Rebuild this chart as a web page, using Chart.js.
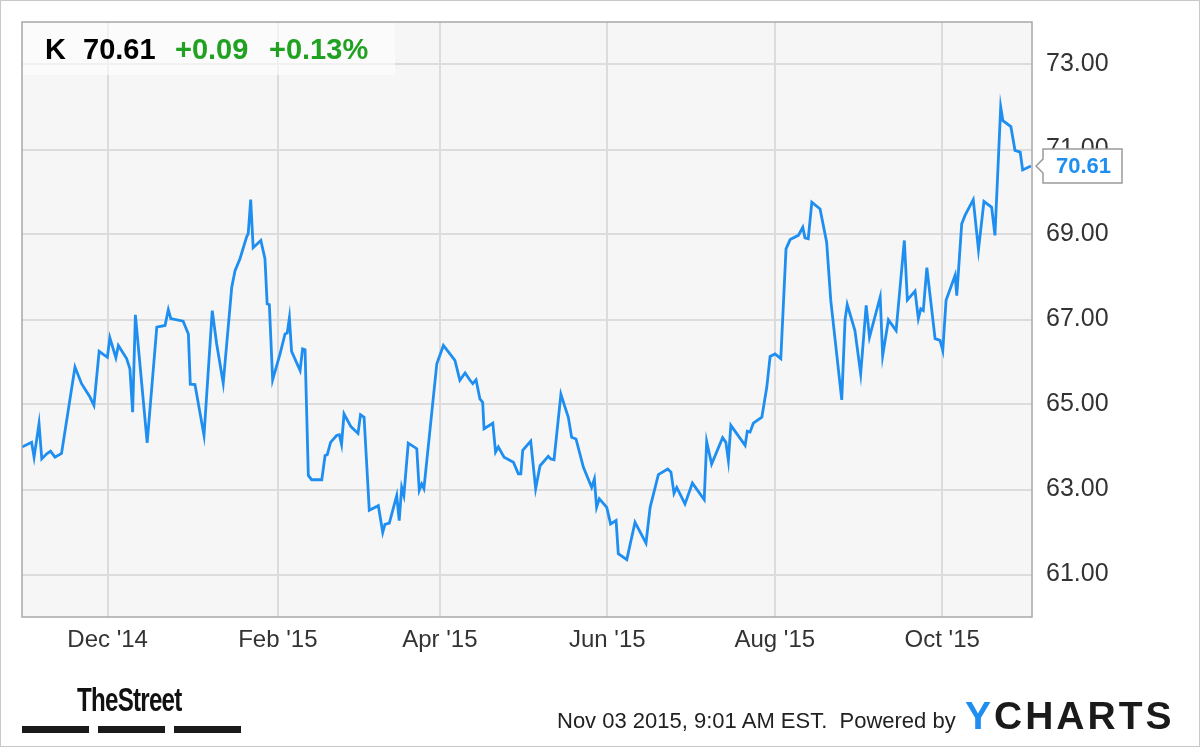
<!DOCTYPE html>
<html>
<head>
<meta charset="utf-8">
<script src="https://cdn.jsdelivr.net/npm/chart.js"></script>
<style>
  html, body { margin: 0; padding: 0; background: #fff; }
  #wrap { position: relative; width: 1200px; height: 747px; overflow: hidden; font-family: "Liberation Sans", Arial, sans-serif; }
  #frame { position: absolute; left: 0; top: 0; width: 1198px; height: 745px; border: 1px solid #c8c8c8; pointer-events: none; }
  #chart { position: absolute; left: 0; top: 0; }
  #quote { position: absolute; left: 23px; top: 23px; width: 372px; height: 52px; background: rgba(255,255,255,0.6); }
  #quote span { position: absolute; top: 11px; font-weight: bold; font-size: 29px; line-height: 30px; }
  .up { color: #21a121; }
  #street { position: absolute; left: 77px; top: 681px; font-weight: bold; font-size: 33px; transform: scaleX(0.73); transform-origin: left top; color: #111; letter-spacing: -1px; }
  .bar { position: absolute; top: 726px; height: 7px; width: 67px; background: #1a1a1a; }
  #stamp { position: absolute; left: 557px; top: 708px; font-size: 22px; color: #222; white-space: nowrap; }
  #ycharts { position: absolute; left: 965px; top: 694px; font-size: 39px; font-weight: bold; letter-spacing: 3px; color: #1a1a1a; }
  #ycharts b { color: #1e8ef0; }
</style>
</head>
<body>
<div id="wrap">
  <canvas id="chart" width="1200" height="747"></canvas>
  <div id="quote">
    <span style="left:22px">K</span>
    <span style="left:60px">70.61</span>
    <span class="up" style="left:152px">+0.09</span>
    <span class="up" style="left:246px">+0.13%</span>
  </div>
  <div id="street">TheStreet</div>
  <div class="bar" style="left:22px"></div>
  <div class="bar" style="left:98px"></div>
  <div class="bar" style="left:174px"></div>
  <div id="stamp">Nov 03 2015, 9:01 AM EST.&nbsp; Powered by</div>
  <div id="ycharts"><b>Y</b>CHARTS</div>
  <div id="frame"></div>
</div>
<script>
// K (Kellogg) daily closes; x = days since 2014-11-03
const dayOffsets = [
  -3.2, 0.3, 1.2, 3.0, 4.0, 5.8, 7.2, 8.8, 11.2, 16.1, 18.5, 21.6, 23.0, 24.9, 27.9, 28.8, 31.0, 31.9, 34.9, 36.1,
  37.1, 38.1, 42.4, 45.9, 48.9, 50.1, 51.0, 55.5, 57.4, 58.1, 59.8, 63.1, 66.1, 67.7, 70.1, 73.2, 74.4, 76.2, 78.6, 79.2,
  80.1, 81.0, 83.8, 85.3, 86.1, 86.9, 88.1, 90.8, 92.6, 93.4, 94.2, 95.0, 98.1, 99.0, 99.9, 101.1, 102.3, 106.0, 107.2, 108.0,
  109.2, 111.4, 112.4, 113.2, 114.1, 116.6, 119.2, 120.1, 121.4, 123.3, 126.6, 128.2, 129.0, 130.6, 133.3, 134.2, 135.1, 135.9, 137.5, 140.6,
  141.5, 142.4, 143.2, 147.9, 150.3, 154.5, 156.3, 158.2, 160.0, 161.0, 162.2, 163.6, 164.6, 165.1, 168.3, 169.3, 170.3, 172.4, 175.8, 177.6,
  178.5, 179.2, 182.1, 183.9, 185.5, 188.5, 189.4, 190.6, 193.1, 195.8, 197.0, 198.6, 201.3, 204.3, 205.3, 206.1, 207.1, 209.8, 211.2, 213.2,
  214.0, 217.1, 220.1, 224.1, 225.6, 228.6, 232.0, 233.2, 234.3, 235.3, 238.3, 241.0, 245.3, 246.2, 248.0, 252.0, 253.2, 254.1, 255.0, 260.2,
  261.0, 262.0, 263.2, 266.3, 268.1, 269.3, 271.1, 273.2, 275.1, 276.6, 279.6, 281.2, 282.0, 283.2, 284.5, 287.5, 289.9, 291.4, 295.4, 296.6,
  297.4, 300.2, 302.3, 304.3, 305.5, 309.4, 310.3, 312.4, 315.2, 318.2, 319.3, 322.1, 323.3, 324.2, 325.1, 326.4, 329.4, 331.2, 332.2, 333.4,
  336.7, 337.3, 339.1, 340.3, 343.3, 345.2, 347.2, 350.0, 351.2, 353.3, 354.1, 357.0, 358.5, 360.4, 361.3, 364.3
];
const prices = [
  64.00, 64.11, 63.76, 64.55, 63.72, 63.84, 63.90, 63.76, 63.85, 65.88, 65.49, 65.17, 64.98, 66.25, 66.11, 66.57, 66.10, 66.39, 66.08, 65.84,
  64.82, 67.11, 64.10, 66.82, 66.86, 67.23, 67.02, 66.96, 66.66, 65.48, 65.47, 64.27, 67.21, 66.43, 65.50, 67.76, 68.15, 68.43, 68.94, 69.02,
  69.82, 68.69, 68.86, 68.43, 67.37, 67.35, 65.58, 66.19, 66.66, 66.68, 67.04, 66.25, 65.80, 66.31, 66.29, 63.33, 63.23, 63.23, 63.80, 63.82,
  64.11, 64.27, 64.29, 64.06, 64.78, 64.48, 64.32, 64.76, 64.70, 62.51, 62.62, 61.99, 62.18, 62.21, 62.86, 62.27, 63.05, 62.86, 64.09, 63.96,
  62.98, 63.13, 63.02, 65.96, 66.39, 66.04, 65.57, 65.74, 65.57, 65.49, 65.58, 65.13, 65.05, 64.43, 64.56, 63.88, 64.00, 63.76, 63.64, 63.37,
  63.37, 63.92, 64.14, 63.02, 63.56, 63.78, 63.72, 63.70, 65.24, 64.70, 64.23, 64.19, 63.52, 63.05, 63.25, 62.58, 62.78, 62.58, 62.19, 62.27,
  61.49, 61.35, 62.23, 61.74, 62.58, 63.35, 63.48, 63.41, 62.91, 63.05, 62.66, 63.15, 62.76, 64.13, 63.60, 64.22, 64.11, 63.68, 64.51, 64.04,
  64.37, 64.35, 64.56, 64.70, 65.41, 66.13, 66.19, 66.08, 68.66, 68.88, 68.98, 69.17, 68.92, 68.90, 69.76, 69.60, 68.82, 67.45, 65.11, 66.99,
  67.35, 66.74, 65.72, 67.33, 66.58, 67.53, 66.15, 66.99, 66.74, 68.86, 67.46, 67.67, 67.02, 67.25, 67.21, 68.22, 66.55, 66.51, 66.27, 67.45,
  68.04, 67.56, 69.25, 69.45, 69.82, 68.64, 69.78, 69.64, 68.98, 72.00, 71.68, 71.54, 70.98, 70.94, 70.52, 70.61
];
// month-start ticks (days since 2014-11-03)
const monthTickDays = [28, 90, 149, 210, 271, 332];
const monthTickLabels = ["Dec '14", "Feb '15", "Apr '15", "Jun '15", "Aug '15", "Oct '15"];
const priceTicks = [61, 63, 65, 67, 69, 71, 73];

const lineBlue = '#1e8ef0';
const lastPrice = prices[prices.length - 1];

// plot background + frame
const plotBg = {
  id: 'plotBg',
  beforeDraw(chart) {
    const { ctx, chartArea: a } = chart;
    ctx.save();
    ctx.fillStyle = '#f6f6f6';
    ctx.fillRect(a.left, a.top, a.right - a.left, a.bottom - a.top);
    ctx.restore();
  },
  afterDraw(chart) {
    const { ctx, chartArea: a } = chart;
    ctx.save();
    ctx.strokeStyle = '#a8a8a8';
    ctx.lineWidth = 1.5;
    ctx.strokeRect(a.left, a.top, a.right - a.left, a.bottom - a.top);
    ctx.restore();
  }
};

// last-price tag on the right axis
const priceTag = {
  id: 'priceTag',
  afterDraw(chart) {
    const { ctx, chartArea: a } = chart;
    const y = chart.scales.y.getPixelForValue(lastPrice);
    const x0 = a.right + 4, bx = a.right + 11, bw = 79, bh = 34;
    ctx.save();
    ctx.beginPath();
    ctx.moveTo(x0, y);
    ctx.lineTo(bx, y - 7);
    ctx.lineTo(bx, y - bh / 2);
    ctx.lineTo(bx + bw, y - bh / 2);
    ctx.lineTo(bx + bw, y + bh / 2);
    ctx.lineTo(bx, y + bh / 2);
    ctx.lineTo(bx, y + 7);
    ctx.closePath();
    ctx.fillStyle = '#fff';
    ctx.fill();
    ctx.strokeStyle = '#9a9a9a';
    ctx.lineWidth = 1.5;
    ctx.stroke();
    ctx.fillStyle = lineBlue;
    ctx.font = 'bold 22px "Liberation Sans", Arial, sans-serif';
    ctx.textAlign = 'center';
    ctx.textBaseline = 'middle';
    ctx.fillText(lastPrice.toFixed(2), bx + bw / 2 + 1, y + 1);
    ctx.restore();
  }
};

const ctx = document.getElementById('chart');
new Chart(ctx, {
  type: 'line',
  data: {
    datasets: [{
      data: dayOffsets.map((d, i) => ({ x: d, y: prices[i] })),
      borderColor: lineBlue,
      borderWidth: 2.8,
      pointRadius: 0,
      tension: 0,
      fill: false
    }]
  },
  options: {
    responsive: false,
    animation: false,
    layout: { padding: { left: 22, top: 22, right: 0, bottom: 0 } },
    plugins: { legend: { display: false }, tooltip: { enabled: false } },
    scales: {
      x: {
        type: 'linear',
        min: -3.2,
        max: 364.7,
        afterBuildTicks: (s) => { s.ticks = monthTickDays.map(v => ({ value: v })); },
        afterFit: (s) => { s.height = 130; s.paddingLeft = 0; s.paddingRight = 0; },
        grid: { color: '#dcdcdc', lineWidth: 2, drawTicks: false },
        border: { display: false },
        ticks: {
          padding: 9,
          maxRotation: 0,
          autoSkip: false,
          color: '#333',
          font: { family: '"Liberation Sans", Arial, sans-serif', size: 24 },
          callback: (v) => monthTickLabels[monthTickDays.indexOf(v)]
        }
      },
      y: {
        position: 'right',
        min: 60,
        max: 74,
        afterBuildTicks: (s) => { s.ticks = priceTicks.map(v => ({ value: v })); },
        afterFit: (s) => { s.width = 168; s.paddingTop = 0; s.paddingBottom = 0; },
        grid: { color: '#dcdcdc', lineWidth: 2, drawTicks: false },
        border: { display: false },
        ticks: {
          padding: 14,
          color: '#333',
          font: { family: '"Liberation Sans", Arial, sans-serif', size: 25 },
          callback: (v) => Number(v).toFixed(2)
        }
      }
    }
  },
  plugins: [plotBg, priceTag]
});
</script>
</body>
</html>
